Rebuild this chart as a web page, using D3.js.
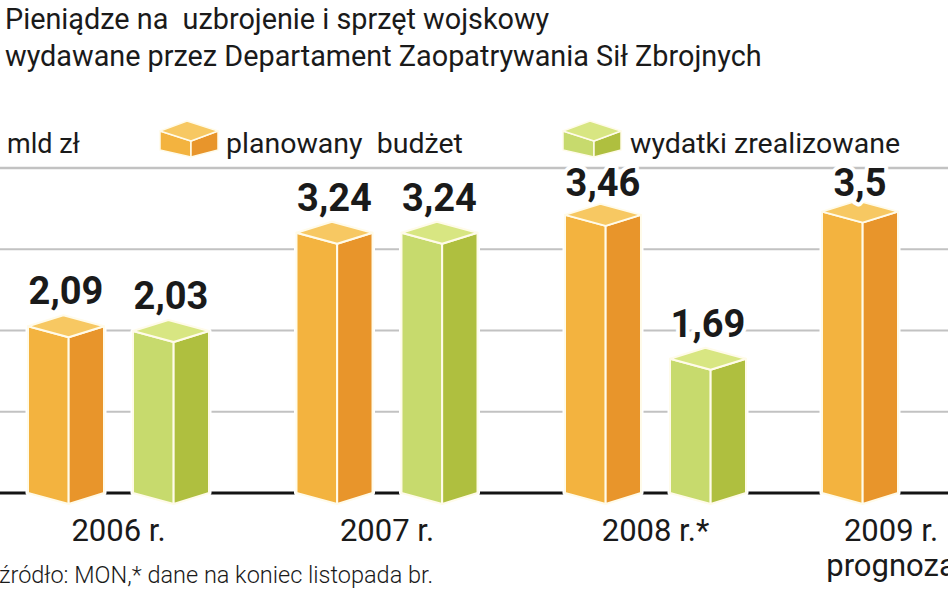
<!DOCTYPE html>
<html>
<head>
<meta charset="utf-8">
<script src="https://cdn.jsdelivr.net/npm/d3@7"></script>
<style>
  html, body { margin: 0; padding: 0; background: #fff; }
  svg { display: block; }
  text { font-family: Roboto, "Noto Sans", sans-serif; fill: #1a1a1a; white-space: pre; }
</style>
</head>
<body>
<svg id="chart" width="948" height="593"></svg>
<script>
// ---- data ----
const years = ["2006 r.", "2007 r.", "2008 r.*", "2009 r."];
const yearNotes = ["", "", "", "prognoza"];
const planned = [2.09, 3.24, 3.46, 3.5];
const realized = [2.03, 3.24, 1.69, null];
const plannedLabels = ["2,09", "3,24", "3,46", "3,5"];
const realizedLabels = ["2,03", "3,24", "1,69", null];
const yTicks = [1, 2, 3, 4];
const seriesNames = ["planowany  budżet", "wydatki zrealizowane"];
const titleLines = ["Pieniądze na  uzbrojenie i sprzęt wojskowy",
                    "wydawane przez Departament Zaopatrywania Sił Zbrojnych"];
const unitLabel = "mld zł";
const sourceText = "źródło: MON,* dane na koniec listopada br.";

// ---- styles ----
const colors = {
  planned: { left: "#f3b33f", right: "#e8952b", top: "#f7c862" },
  realized: { left: "#c7da6d", right: "#afbf3f", top: "#d8e682" }
};

const W = 948, H = 593;
const svg = d3.select("#chart");

const y = d3.scaleLinear().domain([0, 4]).range([493, 168]);
const x0 = d3.scalePoint().domain(years).range([118.5, 924]);
const x1 = d3.scaleBand().domain(["planned", "realized"]).range([-90.5, 90.5]).paddingInner(0.276);
const lastLabelShift = -33;   // last (cropped) group label position
const singleBarShift = -64;   // single bar in last group

// gridlines
svg.append("g").selectAll("line").data(yTicks).join("line")
  .attr("x1", 0).attr("x2", W)
  .attr("y1", d => y(d)).attr("y2", d => y(d))
  .attr("stroke", "#c2c2c2")
  .attr("stroke-width", d => d === 4 ? 2.5 : 2);

// baseline
svg.append("line").attr("x1", 0).attr("x2", W)
  .attr("y1", y(0)).attr("y2", y(0))
  .attr("stroke", "#141414").attr("stroke-width", 3);

// build bar records
const bars = [];
years.forEach((yr, i) => {
  const gc = x0(yr);
  if (realized[i] == null) {
    const bw = x1.bandwidth();
    bars.push({ key: "planned", v: planned[i], label: plannedLabels[i], left: gc + singleBarShift - bw / 2 });
  } else {
    bars.push({ key: "planned", v: planned[i], label: plannedLabels[i], left: gc + x1("planned") });
    bars.push({ key: "realized", v: realized[i], label: realizedLabels[i], left: gc + x1("realized") });
  }
});

const depth = 11;
const base = y(0);
function geom(b) {
  const w = x1.bandwidth();
  const xa = b.left, xb = b.left + w, xm = b.left + w * 0.535;
  const c = y(b.v) + 3;
  const xback = xa + (xb - xm);
  return {
    leftFace: [[xa, c], [xm, c + depth], [xm, base + depth], [xa, base]],
    rightFace: [[xm, c + depth], [xb, c], [xb, base], [xm, base + depth]],
    top: [[xa, c], [xback, c - depth], [xb, c], [xm, c + depth]],
    apex: c - depth,
    cx: (xa + xb) / 2
  };
}
const poly = pts => "M" + pts.map(p => p.join(",")).join("L") + "Z";

const gBars = svg.append("g");
bars.forEach(b => {
  const g = geom(b);
  const col = colors[b.key];
  const gg = gBars.append("g");
  gg.append("path").attr("d", poly([g.top[0], g.top[1], g.top[2], g.rightFace[2], g.rightFace[3], g.leftFace[3]]))
    .attr("fill", "#fff").attr("stroke", "#fff").attr("stroke-width", 5).attr("stroke-linejoin", "round");
  gg.append("path").attr("d", poly(g.leftFace)).attr("fill", col.left)
    .attr("stroke", "#fffbea").attr("stroke-width", 2).attr("stroke-linejoin", "round");
  gg.append("path").attr("d", poly(g.rightFace)).attr("fill", col.right)
    .attr("stroke", "#fffbea").attr("stroke-width", 2).attr("stroke-linejoin", "round");
  gg.append("path").attr("d", poly(g.top)).attr("fill", col.top)
    .attr("stroke", "#fffbea").attr("stroke-width", 2).attr("stroke-linejoin", "round");
  // value label (kept below the top rule)
  svg.append("text").attr("x", g.cx).attr("y", Math.max(g.apex - 11, 196))
    .attr("text-anchor", "middle")
    .attr("font-size", 38).attr("font-weight", 700)
    .attr("stroke", "#fff").attr("stroke-width", 8).attr("paint-order", "stroke")
    .attr("stroke-linejoin", "round")
    .text(b.label);
});

// category labels
years.forEach((yr, i) => {
  const cx = x0(yr) + (i === years.length - 1 ? lastLabelShift : 0);
  svg.append("text").attr("x", cx).attr("y", 541).attr("text-anchor", "middle")
    .attr("font-size", 31).text(yr);
  if (yearNotes[i]) {
    svg.append("text").attr("x", cx).attr("y", 576).attr("text-anchor", "middle")
      .attr("font-size", 31).text(yearNotes[i]);
  }
});

// title
titleLines.forEach((t, i) => {
  svg.append("text").attr("x", 5).attr("y", 29 + i * 37)
    .attr("font-size", 28.8).attr("fill", "#1a1a1a").text(t);
});

// unit label
svg.append("text").attr("x", 7).attr("y", 153).attr("font-size", 27).text(unitLabel);

// legend
function cube(g, cx, col) {
  const l = cx - 29, r = cx + 29, m = cx + 2, t = 121, c = 131, f = 141, bl = 150, bf = 157;
  const back = l + (r - m);
  g.append("path").attr("d", poly([[l, c], [m, f], [m, bf], [l, bl]])).attr("fill", col.left)
    .attr("stroke", "#fffbea").attr("stroke-width", 1.5).attr("stroke-linejoin", "round");
  g.append("path").attr("d", poly([[m, f], [r, c], [r, bl], [m, bf]])).attr("fill", col.right)
    .attr("stroke", "#fffbea").attr("stroke-width", 1.5).attr("stroke-linejoin", "round");
  g.append("path").attr("d", poly([[l, c], [back, t], [r, c], [m, f]])).attr("fill", col.top)
    .attr("stroke", "#fffbea").attr("stroke-width", 1.5).attr("stroke-linejoin", "round");
}
const legend = svg.append("g");
const legendItems = [
  { key: "planned", name: seriesNames[0], cubeX: 189, textX: 226 },
  { key: "realized", name: seriesNames[1], cubeX: 592, textX: 630 }
];
legendItems.forEach(it => {
  cube(legend, it.cubeX, colors[it.key]);
  legend.append("text").attr("x", it.textX).attr("y", 153).attr("font-size", 28.5)
    .text(it.name);
});

// source
svg.append("text").attr("x", -1).attr("y", 583).attr("font-size", 23.5)
  .attr("font-weight", 300).attr("fill", "#2a2a2a").text(sourceText);
</script>
</body>
</html>
